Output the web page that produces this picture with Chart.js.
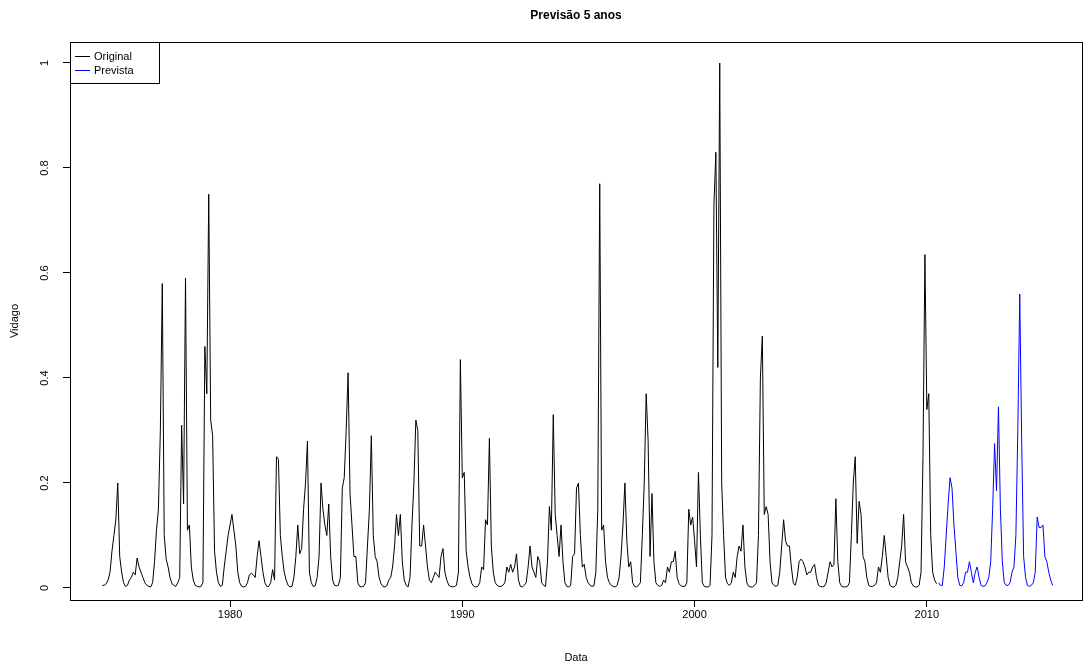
<!DOCTYPE html>
<html>
<head>
<meta charset="utf-8">
<title>Previsão 5 anos</title>
<script src="https://cdn.jsdelivr.net/npm/chart.js@4.4.1/dist/chart.umd.min.js"></script>
<style>
  html, body { margin: 0; padding: 0; background: #fff; }
  canvas { display: block; }
</style>
</head>
<body>
<canvas id="chart" width="1086" height="667"></canvas>
<script>
// ===== DATA =====
// monthly series, original starts Jul 1974, forecast starts Jul 2010
const ORIGINAL_START = 1974.5;
const FORECAST_START = 2010.5;

const original = [
    0.005, 0.005, 0.008, 0.015, 0.03, 0.07,                                       // 1974 (Jul-Dec)
    0.10, 0.13, 0.20, 0.06, 0.03, 0.01, 0.003, 0.005, 0.015, 0.02, 0.03, 0.025,   // 1975
    0.057, 0.04, 0.03, 0.02, 0.01, 0.005, 0.003, 0.002, 0.01, 0.05, 0.11, 0.15,   // 1976
    0.30, 0.58, 0.10, 0.055, 0.04, 0.02, 0.008, 0.005, 0.003, 0.01, 0.02, 0.31,   // 1977
    0.16, 0.59, 0.11, 0.12, 0.04, 0.015, 0.005, 0.003, 0.002, 0.003, 0.01, 0.46,  // 1978
    0.37, 0.75, 0.32, 0.29, 0.07, 0.03, 0.01, 0.003, 0.005, 0.04, 0.07, 0.10,     // 1979
    0.12, 0.14, 0.11, 0.08, 0.03, 0.01, 0.003, 0.002, 0.003, 0.01, 0.025, 0.028,  // 1980
    0.025, 0.02, 0.06, 0.09, 0.06, 0.03, 0.01, 0.003, 0.003, 0.01, 0.035, 0.015,  // 1981
    0.25, 0.245, 0.10, 0.06, 0.03, 0.015, 0.005, 0.002, 0.003, 0.02, 0.06, 0.12,  // 1982
    0.065, 0.075, 0.15, 0.20, 0.28, 0.03, 0.01, 0.003, 0.004, 0.02, 0.06, 0.20,   // 1983
    0.15, 0.12, 0.10, 0.16, 0.06, 0.015, 0.005, 0.004, 0.005, 0.02, 0.19, 0.21,   // 1984
    0.30, 0.41, 0.18, 0.12, 0.06, 0.06, 0.01, 0.003, 0.002, 0.003, 0.01, 0.08,    // 1985
    0.15, 0.29, 0.10, 0.06, 0.05, 0.02, 0.008, 0.003, 0.002, 0.004, 0.015, 0.02,  // 1986
    0.04, 0.08, 0.14, 0.10, 0.14, 0.05, 0.015, 0.005, 0.002, 0.02, 0.12, 0.20,    // 1987
    0.32, 0.30, 0.08, 0.08, 0.12, 0.08, 0.04, 0.015, 0.01, 0.02, 0.03, 0.025,     // 1988
    0.02, 0.06, 0.075, 0.03, 0.015, 0.005, 0.003, 0.002, 0.003, 0.005, 0.03, 0.435, // 1989
    0.21, 0.22, 0.07, 0.04, 0.02, 0.008, 0.003, 0.002, 0.003, 0.01, 0.04, 0.035,  // 1990
    0.13, 0.12, 0.285, 0.08, 0.03, 0.01, 0.005, 0.003, 0.003, 0.005, 0.01, 0.04,  // 1991
    0.03, 0.045, 0.03, 0.04, 0.065, 0.015, 0.003, 0.002, 0.005, 0.01, 0.04, 0.08, // 1992
    0.04, 0.03, 0.02, 0.06, 0.05, 0.01, 0.005, 0.003, 0.05, 0.155, 0.11, 0.33,    // 1993
    0.14, 0.10, 0.06, 0.12, 0.05, 0.01, 0.003, 0.002, 0.005, 0.06, 0.065, 0.19,   // 1994
    0.20, 0.10, 0.04, 0.045, 0.02, 0.01, 0.005, 0.003, 0.004, 0.03, 0.15, 0.77,   // 1995
    0.11, 0.12, 0.05, 0.02, 0.01, 0.005, 0.003, 0.002, 0.005, 0.02, 0.06, 0.12,   // 1996
    0.20, 0.09, 0.04, 0.05, 0.01, 0.003, 0.002, 0.005, 0.01, 0.10, 0.20, 0.37,    // 1997
    0.28, 0.06, 0.18, 0.05, 0.01, 0.005, 0.003, 0.005, 0.015, 0.01, 0.04, 0.03,   // 1998
    0.05, 0.05, 0.07, 0.02, 0.008, 0.004, 0.003, 0.003, 0.01, 0.15, 0.12, 0.135,  // 1999
    0.09, 0.04, 0.22, 0.10, 0.01, 0.003, 0.002, 0.002, 0.005, 0.10, 0.73, 0.83,   // 2000
    0.42, 1.00, 0.20, 0.10, 0.02, 0.008, 0.005, 0.01, 0.03, 0.02, 0.06, 0.08,     // 2001
    0.07, 0.12, 0.04, 0.01, 0.003, 0.002, 0.002, 0.005, 0.01, 0.10, 0.40, 0.48,   // 2002
    0.14, 0.155, 0.14, 0.05, 0.01, 0.005, 0.003, 0.005, 0.03, 0.08, 0.13, 0.09,   // 2003
    0.08, 0.08, 0.04, 0.01, 0.005, 0.02, 0.05, 0.055, 0.05, 0.04, 0.025, 0.03,    // 2004
    0.03, 0.04, 0.045, 0.02, 0.005, 0.003, 0.002, 0.003, 0.01, 0.03, 0.05, 0.04,  // 2005
    0.045, 0.17, 0.05, 0.01, 0.003, 0.002, 0.002, 0.003, 0.01, 0.10, 0.20, 0.25,  // 2006
    0.085, 0.165, 0.14, 0.06, 0.05, 0.02, 0.005, 0.003, 0.003, 0.005, 0.01, 0.04, // 2007
    0.03, 0.06, 0.10, 0.06, 0.02, 0.005, 0.002, 0.002, 0.005, 0.02, 0.05, 0.08,   // 2008
    0.14, 0.05, 0.04, 0.03, 0.01, 0.004, 0.002, 0.002, 0.005, 0.03, 0.25, 0.635,  // 2009
    0.34, 0.37, 0.10, 0.03, 0.015, 0.008                                          // 2010 (Jan-Jun)
];

const forecast = [
    0.01, 0.005, 0.005, 0.04, 0.10, 0.16,                                         // 2010 (Jul-Dec)
    0.21, 0.19, 0.12, 0.07, 0.02, 0.005, 0.004, 0.01, 0.03, 0.03, 0.05, 0.03,     // 2011
    0.01, 0.03, 0.04, 0.02, 0.005, 0.003, 0.004, 0.01, 0.02, 0.05, 0.15, 0.275,   // 2012
    0.185, 0.345, 0.15, 0.05, 0.01, 0.005, 0.005, 0.01, 0.03, 0.04, 0.10, 0.30,   // 2013
    0.56, 0.28, 0.06, 0.02, 0.005, 0.003, 0.005, 0.01, 0.03, 0.135, 0.115, 0.115, // 2014
    0.12, 0.06, 0.05, 0.03, 0.015, 0.005                                          // 2015 (Jan-Jun)
];

const xTicks = [1980, 1990, 2000, 2010];
const yTicks = [0, 0.2, 0.4, 0.6, 0.8, 1];
const yTickLabels = ['0', '0.2', '0.4', '0.6', '0.8', '1'];

const FONT = '"Liberation Sans", Arial, Helvetica, sans-serif';

// ===== HELPERS =====
function toPoints(values, start) {
    return values.map((v, i) => ({ x: start + i / 12, y: v }));
}

// box, rotated y labels, axis titles, title and legend drawn R-style
const rDecor = {
    id: 'rDecor',
    afterDraw(chart) {
        const ctx = chart.ctx;
        const a = chart.chartArea;
        const yScale = chart.scales.y;
        ctx.save();

        // plot box
        ctx.strokeStyle = '#000';
        ctx.lineWidth = 1;
        ctx.strokeRect(a.left + 0.5, a.top + 0.5, a.right - a.left, a.bottom - a.top);

        // y tick labels (rotated like R)
        ctx.fillStyle = '#000';
        ctx.font = '11px ' + FONT;
        ctx.textAlign = 'center';
        ctx.textBaseline = 'middle';
        yTicks.forEach((v, i) => {
            const py = yScale.getPixelForValue(v);
            ctx.save();
            ctx.translate(a.left - 25, py);
            ctx.rotate(-Math.PI / 2);
            ctx.fillText(yTickLabels[i], 0, 0);
            ctx.restore();
        });

        // axis titles
        const midX = (a.left + a.right) / 2;
        const midY = (a.top + a.bottom) / 2;
        ctx.fillText('Data', midX, 658);
        ctx.save();
        ctx.translate(15, midY);
        ctx.rotate(-Math.PI / 2);
        ctx.fillText('Vidago', 0, 0);
        ctx.restore();

        // main title
        ctx.font = 'bold 12px ' + FONT;
        ctx.fillText('Previsão 5 anos', midX, 16);

        // legend (topleft)
        const lx = a.left, ly = a.top;
        ctx.fillStyle = '#fff';
        ctx.fillRect(lx + 0.5, ly + 0.5, 89, 41);
        ctx.strokeStyle = '#000';
        ctx.strokeRect(lx + 0.5, ly + 0.5, 89, 41);
        ctx.font = '11px ' + FONT;
        ctx.textAlign = 'left';
        chart.data.datasets.forEach((ds, i) => {
            const rowY = ly + 14.5 + i * 14;
            ctx.strokeStyle = ds.borderColor;
            ctx.beginPath();
            ctx.moveTo(lx + 5, rowY);
            ctx.lineTo(lx + 20, rowY);
            ctx.stroke();
            ctx.fillStyle = '#000';
            ctx.fillText(ds.label, lx + 24, rowY);
        });

        ctx.restore();
    }
};

// ===== CHART =====
const ctx = document.getElementById('chart').getContext('2d');
new Chart(ctx, {
    type: 'line',
    data: {
        datasets: [
            {
                label: 'Original',
                data: toPoints(original, ORIGINAL_START),
                borderColor: '#000000',
                borderWidth: 1,
                pointRadius: 0,
                tension: 0,
                fill: false
            },
            {
                label: 'Prevista',
                data: toPoints(forecast, FORECAST_START),
                borderColor: '#0000FF',
                borderWidth: 1,
                pointRadius: 0,
                tension: 0,
                fill: false
            }
        ]
    },
    options: {
        responsive: false,
        animation: false,
        events: [],
        layout: { padding: { top: 42, right: 4, left: 0, bottom: 0 } },
        plugins: {
            legend: { display: false },
            title: { display: false },
            tooltip: { enabled: false }
        },
        scales: {
            x: {
                type: 'linear',
                min: 1973.11,
                max: 2016.68,
                afterBuildTicks: s => { s.ticks = xTicks.map(v => ({ value: v })); },
                afterFit: s => { s.height = 67; },
                ticks: {
                    color: '#000',
                    font: { size: 11, family: FONT },
                    padding: 1,
                    maxRotation: 0,
                    autoSkip: false,
                    callback: v => String(v)
                },
                grid: { display: true, drawOnChartArea: false, drawTicks: true, tickLength: 7, color: '#000' },
                border: { display: false }
            },
            y: {
                type: 'linear',
                min: -0.0229,
                max: 1.04,
                afterBuildTicks: s => { s.ticks = yTicks.map(v => ({ value: v })); },
                afterFit: s => { s.width = 70; },
                ticks: { display: false },
                grid: { display: true, drawOnChartArea: false, drawTicks: true, tickLength: 7, color: '#000' },
                border: { display: false }
            }
        }
    },
    plugins: [rDecor]
});
</script>
</body>
</html>
